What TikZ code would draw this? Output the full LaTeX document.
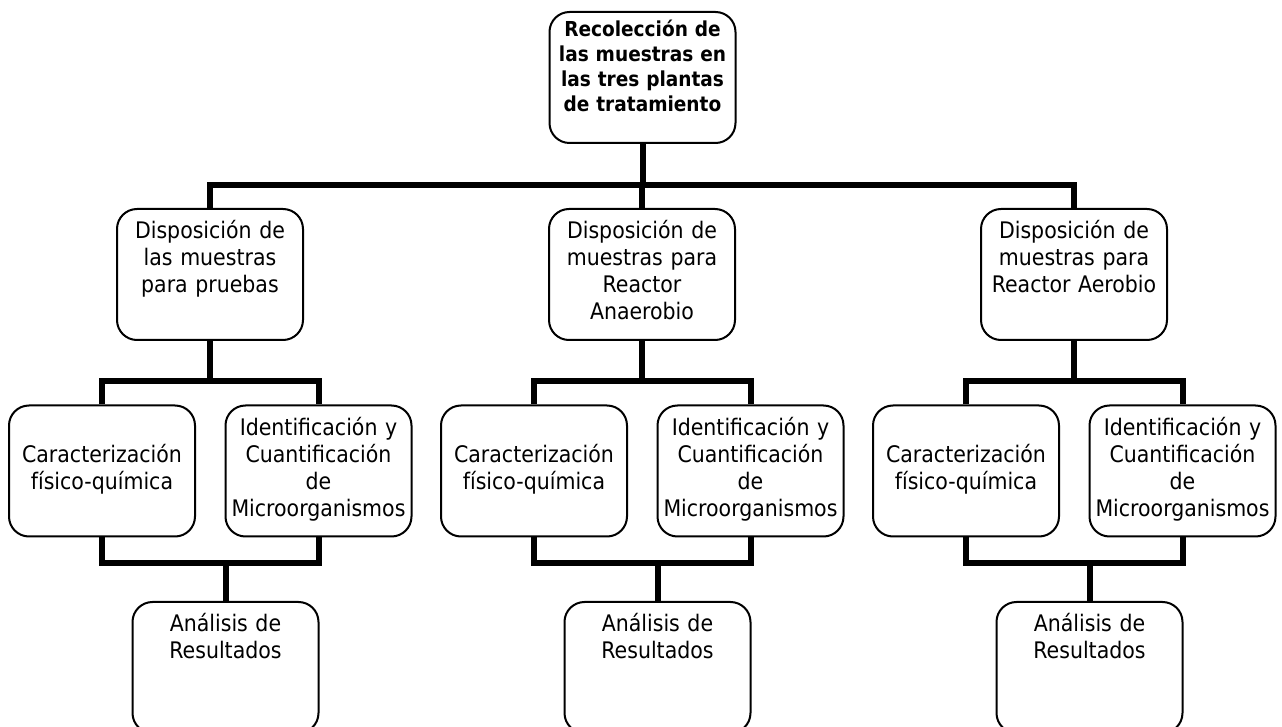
\documentclass[tikz,border=0pt]{standalone}
\usepackage{fontspec}
\setmainfont{DejaVu Sans Condensed}
\tikzset{
  caja/.style={draw, line width=1pt, rounded corners=10pt, fill=white,
    text width=93pt, align=center, inner sep=0pt,
    text height=15pt, text depth=50.5pt,
    font=\fontsize{11.4}{13.5}\selectfont},
  titulo/.style={caja, text height=12.5pt, text depth=53pt,
    font=\fontsize{10.3}{12.5}\selectfont\bfseries},
  union/.style={line width=3pt, line join=miter}
}

\begin{document}
\begin{tikzpicture}[x=0.5pt, y=-0.5pt]
  \useasboundingbox (0,0) rectangle (1282,727);
  \def\izq{-108}
  \def\der{108.5}
  \def\ab{15.5}

  % ---------- cabeza ----------
  \node[titulo] (rec) at (642.5,77.5)
    {Recolección de\\las muestras en\\las tres plantas\\de tratamiento};
  \coordinate (nivel1) at (0,185);

  % ---------- (a) pruebas ----------
  \begin{scope}[shift={(210,0)}]
    \node[caja] (dispA) at (0,274.5) {Disposición de\\las muestras\\para pruebas};
    \node[caja] (caractA) at (\izq,471) {\mbox{}\\Caracterización\\físico-química};
    \node[caja] (identA) at (\der,471)
      {Identificación y\\Cuantificación\\de\\Microorganismos};
    \node[caja] (analA) at (\ab,667.5) {Análisis de\\Resultados};
    \coordinate (nivel2) at (0,381);
    \coordinate (nivel3) at (0,563);
    \draw[union] (dispA.south) -- (dispA.south |- nivel2);
    \draw[union] (caractA.north) |- (identA.north |- nivel2) -- (identA.north);
    \draw[union] (caractA.south) |- (identA.south |- nivel3) -- (identA.south);
    \draw[union] (analA.north) -- (analA.north |- nivel3);
  \end{scope}

  % ---------- (b) reactor anaerobio ----------
  \begin{scope}[shift={(642,0)}]
    \node[caja] (dispB) at (0,274.5)
      {Disposición de\\muestras para\\Reactor\\Anaerobio};
    \node[caja] (caractB) at (\izq,471) {\mbox{}\\Caracterización\\físico-química};
    \node[caja] (identB) at (\der,471)
      {Identificación y\\Cuantificación\\de\\Microorganismos};
    \node[caja] (analB) at (\ab,667.5) {Análisis de\\Resultados};
    \coordinate (nivel2) at (0,381);
    \coordinate (nivel3) at (0,563);
    \draw[union] (dispB.south) -- (dispB.south |- nivel2);
    \draw[union] (caractB.north) |- (identB.north |- nivel2) -- (identB.north);
    \draw[union] (caractB.south) |- (identB.south |- nivel3) -- (identB.south);
    \draw[union] (analB.north) -- (analB.north |- nivel3);
  \end{scope}

  % ---------- (c) reactor aerobio ----------
  \begin{scope}[shift={(1074,0)}]
    \node[caja] (dispC) at (0,274.5)
      {Disposición de\\muestras para\\Reactor Aerobio};
    \node[caja] (caractC) at (\izq,471) {\mbox{}\\Caracterización\\físico-química};
    \node[caja] (identC) at (\der,471)
      {Identificación y\\Cuantificación\\de\\Microorganismos};
    \node[caja] (analC) at (\ab,667.5) {Análisis de\\Resultados};
    \coordinate (nivel2) at (0,381);
    \coordinate (nivel3) at (0,563);
    \draw[union] (dispC.south) -- (dispC.south |- nivel2);
    \draw[union] (caractC.north) |- (identC.north |- nivel2) -- (identC.north);
    \draw[union] (caractC.south) |- (identC.south |- nivel3) -- (identC.south);
    \draw[union] (analC.north) -- (analC.north |- nivel3);
  \end{scope}

  % ---------- barra superior ----------
  \draw[union] (rec.south) -- (rec.south |- nivel1);
  \draw[union] (dispA.north) |- (dispC.north |- nivel1) -- (dispC.north);
  \draw[union] (dispB.north) -- (dispB.north |- nivel1);
\end{tikzpicture}
\end{document}
